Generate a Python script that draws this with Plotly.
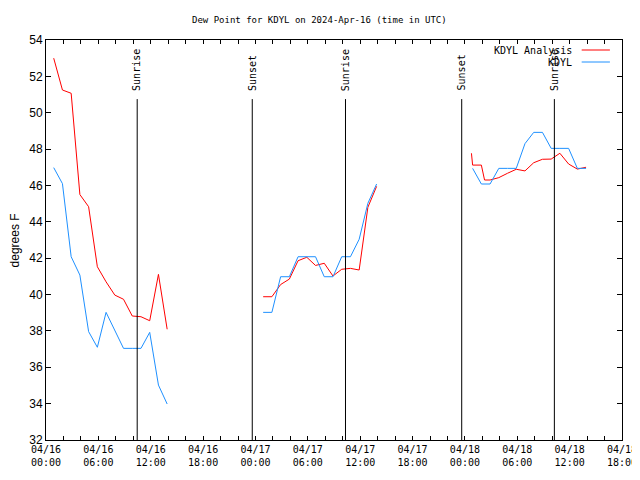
import plotly.graph_objects as go

# ---------------- data ----------------
obs_times = [
    "2024-04-16 00:53", "2024-04-16 01:53", "2024-04-16 02:53", "2024-04-16 03:53",
    "2024-04-16 04:53", "2024-04-16 05:53", "2024-04-16 06:53", "2024-04-16 07:53",
    "2024-04-16 08:53", "2024-04-16 09:53", "2024-04-16 10:53", "2024-04-16 11:53",
    "2024-04-16 12:53", "2024-04-16 13:53", None,
    "2024-04-17 00:53", "2024-04-17 01:53", "2024-04-17 02:53", "2024-04-17 03:53",
    "2024-04-17 04:53", "2024-04-17 05:53", "2024-04-17 06:53", "2024-04-17 07:53",
    "2024-04-17 08:53", "2024-04-17 09:53", "2024-04-17 10:53", "2024-04-17 11:53",
    "2024-04-17 12:53", "2024-04-17 13:53", None,
    "2024-04-18 00:53", "2024-04-18 01:53", "2024-04-18 02:53", "2024-04-18 03:53",
    "2024-04-18 04:53", "2024-04-18 05:53", "2024-04-18 06:53", "2024-04-18 07:53",
    "2024-04-18 08:53", "2024-04-18 09:53", "2024-04-18 10:53", "2024-04-18 11:53",
    "2024-04-18 12:53", "2024-04-18 13:53",
]
obs_dewpoint = [
    46.98, 46.1, 42.08, 41.07, 37.96, 37.1, 39.02, 38.0, 37.04, 37.04, 37.04, 37.92, 35.02, 33.98, None,
    39.02, 39.02, 40.98, 40.98, 42.08, 42.08, 42.08, 40.98, 40.98, 42.08, 42.08, 43.04, 45.02, 46.08, None,
    46.94, 46.08, 46.08, 46.94, 46.94, 46.94, 48.3, 48.92, 48.92, 48.04, 48.04, 48.04, 46.94, 46.94,
]

analysis_times = [
    "2024-04-16 00:53", "2024-04-16 01:53", "2024-04-16 02:53", "2024-04-16 03:53",
    "2024-04-16 04:53", "2024-04-16 05:53", "2024-04-16 06:53", "2024-04-16 07:53",
    "2024-04-16 08:53", "2024-04-16 09:53", "2024-04-16 10:53", "2024-04-16 11:53",
    "2024-04-16 12:53", "2024-04-16 13:53", None,
    "2024-04-17 00:53", "2024-04-17 01:53", "2024-04-17 02:53", "2024-04-17 03:53",
    "2024-04-17 04:53", "2024-04-17 05:53", "2024-04-17 06:53", "2024-04-17 07:53",
    "2024-04-17 08:53", "2024-04-17 09:53", "2024-04-17 10:53", "2024-04-17 11:53",
    "2024-04-17 12:53", "2024-04-17 13:53", None,
    "2024-04-18 00:45", "2024-04-18 00:53", "2024-04-18 01:53", "2024-04-18 02:15",
    "2024-04-18 02:53", "2024-04-18 03:53", "2024-04-18 04:53", "2024-04-18 05:53",
    "2024-04-18 06:53", "2024-04-18 07:53", "2024-04-18 08:53", "2024-04-18 09:53",
    "2024-04-18 10:53", "2024-04-18 11:53", "2024-04-18 12:53", "2024-04-18 13:53",
]
analysis_dewpoint = [
    53.0, 51.25, 51.07, 45.5, 44.83, 41.53, 40.7, 39.97, 39.74, 38.82, 38.78, 38.56, 41.11, 38.09, None,
    39.88, 39.88, 40.55, 40.85, 41.86, 42.05, 41.6, 41.72, 41.02, 41.39, 41.44, 41.35, 44.8, 45.95, None,
    47.77, 47.12, 47.12, 46.3, 46.3, 46.43, 46.67, 46.89, 46.8, 47.25, 47.44, 47.45, 47.77, 47.18, 46.9, 47.0,
]

sun_times = ["2024-04-16 10:27", "2024-04-16 23:38", "2024-04-17 10:19",
             "2024-04-17 23:38", "2024-04-18 10:15"]
sun_labels = ["Sunrise", "Sunset", "Sunrise", "Sunset", "Sunrise"]

x_tick_vals = ["2024-04-16 00:00", "2024-04-16 06:00", "2024-04-16 12:00", "2024-04-16 18:00",
               "2024-04-17 00:00", "2024-04-17 06:00", "2024-04-17 12:00", "2024-04-17 18:00",
               "2024-04-18 00:00", "2024-04-18 06:00", "2024-04-18 12:00", "2024-04-18 18:00"]
x_tick_text = ["04/16<br>00:00", "04/16<br>06:00", "04/16<br>12:00", "04/16<br>18:00",
               "04/17<br>00:00", "04/17<br>06:00", "04/17<br>12:00", "04/17<br>18:00",
               "04/18<br>00:00", "04/18<br>06:00", "04/18<br>12:00", "04/18<br>18:00"]
x_range = ["2024-04-16 00:00", "2024-04-18 18:00"]
y_range = [32, 54]
sun_line_top = 50.75
sun_label_base = 51.1

series_names = ["KDYL Analysis", "KDYL"]
series_colors = ["#FF0000", "#1E90FF"]

MONO = "DejaVu Sans Mono"
SANS = "Liberation Sans"

fig = go.Figure()
fig.add_trace(go.Scatter(x=analysis_times, y=analysis_dewpoint, mode="lines",
                         name=series_names[0], line=dict(color=series_colors[0], width=1),
                         connectgaps=False))
fig.add_trace(go.Scatter(x=obs_times, y=obs_dewpoint, mode="lines",
                         name=series_names[1], line=dict(color=series_colors[1], width=1),
                         connectgaps=False))

for t, lab in zip(sun_times, sun_labels):
    fig.add_shape(type="line", xref="x", yref="y", x0=t, x1=t, y0=y_range[0], y1=sun_line_top,
                  line=dict(color="black", width=1))
    fig.add_annotation(x=t, y=sun_label_base, xref="x", yref="y", text=lab, textangle=-90,
                       showarrow=False, xanchor="center", yanchor="bottom",
                       font=dict(family=MONO, size=10, color="black"))

# manual gnuplot-style key (text right, sample line on the right)
legend_y = [0.975, 0.945]
for name, col, ly in zip(series_names, series_colors, legend_y):
    fig.add_annotation(x=0.917, y=ly, xref="paper", yref="paper", text=name, showarrow=False,
                       xanchor="right", yanchor="middle",
                       font=dict(family=MONO, size=10, color="black"))
    fig.add_shape(type="line", xref="paper", yref="paper", x0=0.930, x1=0.979, y0=ly, y1=ly,
                  line=dict(color=col, width=1))

# title and y-axis label as annotations (exact placement)
fig.add_annotation(x=0.474, y=1.05, xref="paper", yref="paper",
                   text="Dew Point for KDYL on 2024-Apr-16 (time in UTC)", showarrow=False,
                   xanchor="center", yanchor="middle",
                   font=dict(family=MONO, size=9, color="black"))
fig.add_annotation(x=-0.053, y=0.5, xref="paper", yref="paper", text="degrees F",
                   textangle=-90, showarrow=False, xanchor="center", yanchor="middle",
                   font=dict(family=SANS, size=12, color="black"))

# page body has an 8px margin: figure is sized/margined so the plot area lands at 46..622 x 40..440
fig.update_layout(
    width=632, height=472,
    margin=dict(l=38, r=18, t=32, b=40, autoexpand=False),
    paper_bgcolor="white", plot_bgcolor="white",
    showlegend=False,
)
fig.update_xaxes(
    type="date", range=x_range, showgrid=False, zeroline=False, automargin=False,
    showline=True, linecolor="black", linewidth=1, mirror="ticks",
    ticks="inside", ticklen=4, tickcolor="black",
    tickmode="array", tickvals=x_tick_vals, ticktext=x_tick_text,
    tickfont=dict(family=MONO, size=10, color="black"),
    minor=dict(dtick=2 * 3600 * 1000, tick0="2024-04-16 00:00", ticks="inside", ticklen=4,
               tickcolor="black", showgrid=False),
)
fig.update_yaxes(
    range=y_range, showgrid=False, zeroline=False, automargin=False,
    showline=True, linecolor="black", linewidth=1, mirror="ticks",
    ticks="inside", ticklen=5, tickcolor="black", dtick=2, tick0=32,
    tickfont=dict(family=SANS, size=12, color="black"),
)

fig.write_html("out.html")
